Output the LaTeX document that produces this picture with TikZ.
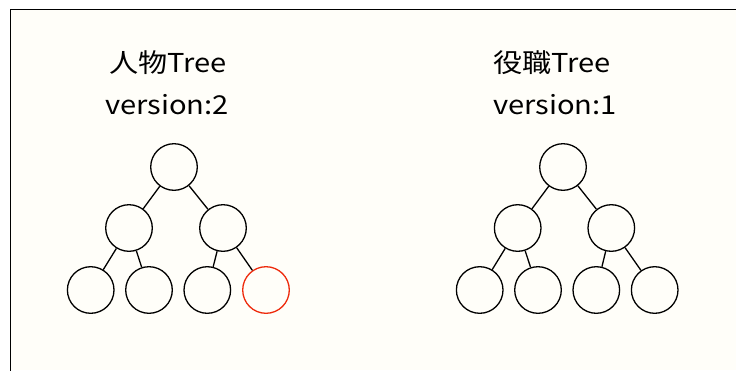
\documentclass[tikz,border=0pt]{standalone}
\usepackage{fontspec}
\setmainfont{Noto Sans CJK JP}
\definecolor{bgin}{RGB}{255,254,249}
\definecolor{leafred}{RGB}{238,42,12}
\begin{document}
\begin{tikzpicture}[x=1pt,y=-1pt,
  tn/.style={circle,draw=black,line width=1.3pt,minimum size=46.6pt,inner sep=0pt},
  rn/.style={tn,draw=leafred},
  ed/.style={line width=1.3pt},
  lbl/.style={anchor=base,inner sep=0pt,font=\fontsize{26}{30}\selectfont}]
\useasboundingbox (0,0) rectangle (736,370);
\fill[white] (0,0) rectangle (736,370);
\fill[bgin] (10,9) rectangle (736,370);
\draw[line width=1.4pt] (10.5,372) -- (10.5,9.5) -- (738,9.5);
% left tree
\node[lbl] (t1a) at (168,72) {\scalebox{1.12}[1]{人物Tree}};
\node[lbl] (t1b) at (167,114) {\scalebox{1.12}[1]{version:2}};
\node[tn] (a0) at (174,167) {};
\node[tn] (a1) at (129,228) {};
\node[tn] (a2) at (223,228) {};
\node[tn] (a3) at (90.7,290) {};
\node[tn] (a4) at (149,290) {};
\node[tn] (a5) at (207.3,290) {};
\node[rn] (a6) at (266,290) {};
\draw[ed] (a0) -- (a1); \draw[ed] (a0) -- (a2);
\draw[ed] (a1) -- (a3); \draw[ed] (a1) -- (a4);
\draw[ed] (a2) -- (a5); \draw[ed] (a2) -- (a6);
% right tree
\node[lbl] (t2a) at (552,72) {\scalebox{1.12}[1]{役職Tree}};
\node[lbl] (t2b) at (555,114) {\scalebox{1.12}[1]{version:1}};
\node[tn] (b0) at (563,167) {};
\node[tn] (b1) at (517.7,228) {};
\node[tn] (b2) at (611.3,228) {};
\node[tn] (b3) at (479.7,290) {};
\node[tn] (b4) at (538,290) {};
\node[tn] (b5) at (596.3,290) {};
\node[tn] (b6) at (654.7,290) {};
\draw[ed] (b0) -- (b1); \draw[ed] (b0) -- (b2);
\draw[ed] (b1) -- (b3); \draw[ed] (b1) -- (b4);
\draw[ed] (b2) -- (b5); \draw[ed] (b2) -- (b6);
\end{tikzpicture}
\end{document}
